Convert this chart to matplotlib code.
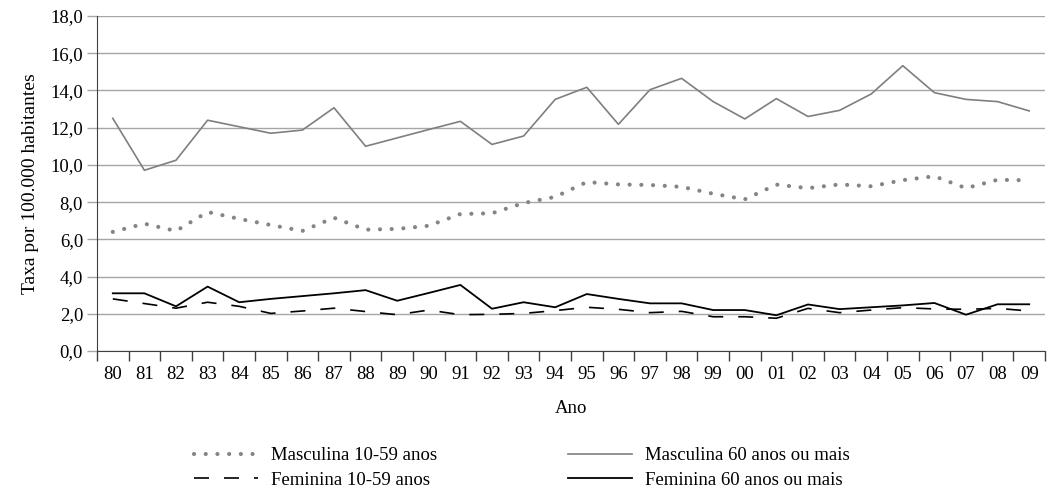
import matplotlib
matplotlib.use('Agg')
import matplotlib.pyplot as plt
import numpy as np
from matplotlib.lines import Line2D

plt.rcParams['font.family'] = ['Liberation Serif', 'DejaVu Serif']

# dados (taxa por 100.000 habitantes)
anos = ['80', '81', '82', '83', '84', '85', '86', '87', '88', '89',
        '90', '91', '92', '93', '94', '95', '96', '97', '98', '99',
        '00', '01', '02', '03', '04', '05', '06', '07', '08', '09']
masc_10_59 = [6.40, 6.84, 6.45, 7.47, 7.10, 6.77, 6.45, 7.16, 6.52, 6.56,
              6.73, 7.36, 7.40, 7.95, 8.28, 9.08, 8.95, 8.92, 8.82, 8.45,
              8.15, 8.94, 8.75, 8.95, 8.85, 9.18, 9.39, 8.75, 9.20, 9.17]
masc_60 = [12.50, 9.71, 10.25, 12.40, 12.05, 11.70, 11.87, 13.07, 11.00, 11.45,
           11.90, 12.34, 11.10, 11.55, 13.52, 14.17, 12.18, 14.04, 14.65, 13.40,
           12.47, 13.56, 12.60, 12.93, 13.81, 15.33, 13.88, 13.52, 13.40, 12.90]
fem_10_59 = [2.80, 2.55, 2.30, 2.62, 2.40, 2.02, 2.15, 2.30, 2.12, 1.95,
             2.20, 1.95, 1.97, 2.02, 2.17, 2.35, 2.24, 2.06, 2.13, 1.84,
             1.84, 1.76, 2.29, 2.06, 2.20, 2.33, 2.26, 2.24, 2.29, 2.15]
fem_60 = [3.10, 3.10, 2.40, 3.46, 2.62, 2.80, 2.95, 3.10, 3.27, 2.70,
          3.12, 3.55, 2.27, 2.62, 2.35, 3.06, 2.80, 2.56, 2.56, 2.20,
          2.20, 1.92, 2.50, 2.25, 2.35, 2.45, 2.58, 1.95, 2.51, 2.51]

x = np.arange(len(anos))

fig = plt.figure(figsize=(10.51, 4.92), dpi=100)
ax = fig.add_axes([97 / 1051, 1 - 351 / 492, (1045 - 97) / 1051, (351 - 16) / 492])

# grade horizontal
ax.set_ylim(0, 18)
ax.set_yticks(np.arange(0, 18.1, 2))
ax.set_yticklabels([f'{v:.1f}'.replace('.', ',') for v in np.arange(0, 18.1, 2)])
ax.grid(axis='y', color='#a6a6a6', lw=1.0)
ax.set_axisbelow(True)

# séries
dot_style = dict(color='#858585', lw=3.0, linestyle=(0, (0.01, 2.8)), dash_capstyle='round')
dash_style = dict(color='black', lw=1.2, linestyle=(0, (9, 9)))
ax.plot(x, masc_10_59, **dot_style)
ax.plot(x, fem_10_59, **dash_style)
ax.plot(x, masc_60, color='#7f7f7f', lw=1.2)
ax.plot(x, fem_60, color='black', lw=1.3)

# eixo x categórico
ax.set_xlim(-0.5, len(anos) - 0.5)
ax.set_xticks(x)
ax.set_xticklabels(anos)
ax.set_xticks(np.arange(-0.5, len(anos), 1), minor=True)
ax.tick_params(axis='x', which='major', length=0, pad=11, labelsize=13.5)
ax.tick_params(axis='x', which='minor', length=7, color='#404040', width=1)
ax.tick_params(axis='y', length=7, color='#a6a6a6', width=1, pad=3, labelsize=13.5)

for s in ['top', 'right']:
    ax.spines[s].set_visible(False)
ax.spines['left'].set_color('#404040')
ax.spines['bottom'].set_color('#404040')

ax.set_xlabel('Ano', fontsize=13.5, labelpad=12)
ax.set_ylabel('Taxa por 100.000 habitantes', fontsize=14, labelpad=8)

# legenda
handles = [Line2D([], [], **dot_style), Line2D([], [], **dash_style),
           Line2D([], [], color='#7f7f7f', lw=1.2), Line2D([], [], color='black', lw=1.3)]
labels = ['Masculina 10-59 anos', 'Feminina 10-59 anos',
          'Masculina 60 anos ou mais', 'Feminina 60 anos ou mais']
fig.legend(handles, labels, ncol=2, loc='center', bbox_to_anchor=(522 / 1051, 1 - 468 / 492),
           frameon=False, fontsize=13.5, handlelength=3.4, handletextpad=0.7,
           columnspacing=7.0, labelspacing=0.4, borderpad=0)

plt.savefig('out.png', dpi=100)
